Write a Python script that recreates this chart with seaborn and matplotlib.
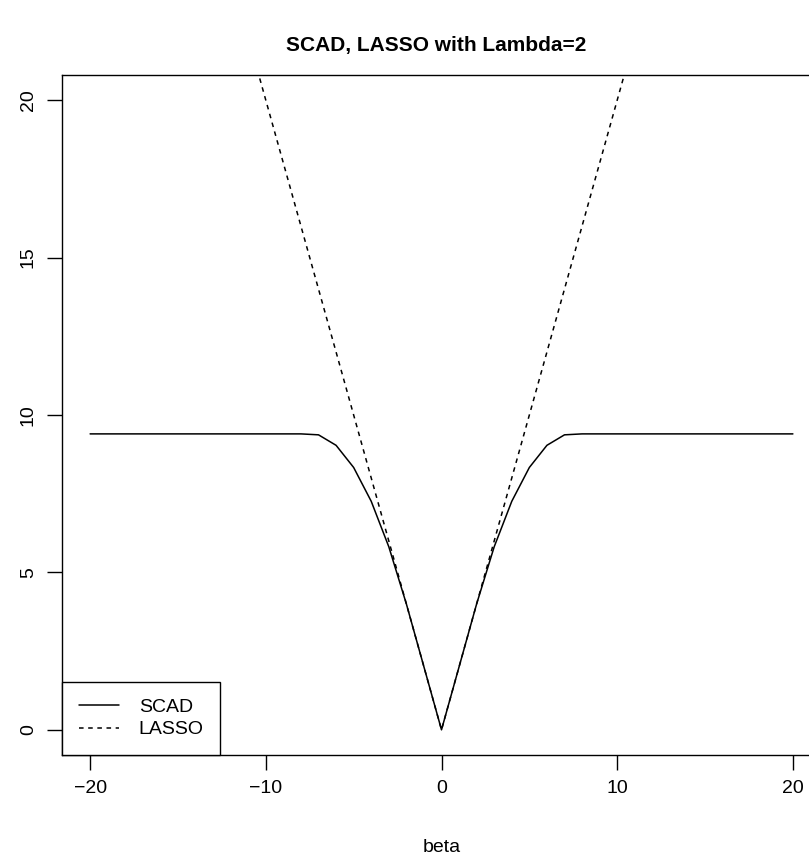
import numpy as np
import pandas as pd
import seaborn as sns
from matplotlib import pyplot as plt

# penalty values, beta = -20..20 step 1
beta = list(range(-20, 21))
scad_pos = [0, 2, 4, 5.815, 7.259, 8.333, 9.037, 9.370] + [9.4] * 13
scad = scad_pos[:0:-1] + scad_pos
lasso_pos = [0, 2, 4, 6, 8, 10, 12, 14, 16, 18, 20, 22, 24, 26, 28, 30, 32, 34, 36, 38, 40]
lasso = lasso_pos[:0:-1] + lasso_pos

df = pd.DataFrame({
    'beta': beta * 2,
    'penalty': scad + lasso,
    'method': ['SCAD'] * len(beta) + ['LASSO'] * len(beta),
})

sns.set_style("white")
plt.rcParams['font.family'] = ['Liberation Sans', 'DejaVu Sans']
plt.rcParams.update({'text.color': 'black', 'axes.labelcolor': 'black',
                     'xtick.color': 'black', 'ytick.color': 'black'})

fig = plt.figure(figsize=(8.09, 8.63), dpi=100)
# plot region runs past the right edge, as in the reference
ax = fig.add_axes([62 / 809, 108 / 863, 759 / 809, 680 / 863])

sns.lineplot(data=df, x='beta', y='penalty', hue='method', style='method',
             palette={'SCAD': 'black', 'LASSO': 'black'},
             dashes={'SCAD': '', 'LASSO': (3, 3)}, linewidth=1.1, ax=ax)

ax.set_xlim(-21.6, 21.6)
ax.set_ylim(-0.8, 20.8)
ax.set_xticks([-20, -10, 0, 10, 20])
ax.set_yticks([0, 5, 10, 15, 20])
ax.set_xticklabels(['\u221220', '\u221210', '0', '10', '20'])
ax.tick_params(axis='both', direction='out', length=11, width=1, color='black',
               labelsize=14, pad=7, left=True, bottom=True)
for lab in ax.get_yticklabels():
    lab.set_rotation(90)
    lab.set_va('center')
for sp in ax.spines.values():
    sp.set_color('black')
    sp.set_linewidth(1)

ax.set_xlabel('beta', fontsize=14, labelpad=30)
ax.set_ylabel('')
fig.text(436 / 809, 1 - 45 / 863, 'SCAD, LASSO with Lambda=2', ha='center', va='center',
         fontsize=15, fontweight='bold')

leg = ax.legend(loc='lower left', borderaxespad=0, fancybox=False, edgecolor='black',
                framealpha=1, fontsize=14, handlelength=2.1, handletextpad=1.0,
                borderpad=0.85, labelspacing=0.25)
leg.get_frame().set_linewidth(1)

fig.savefig('out.png', dpi=100)
